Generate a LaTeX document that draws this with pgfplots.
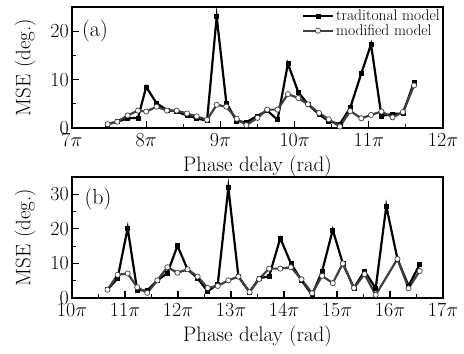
\documentclass[border=0pt]{standalone}
\usepackage{fix-cm}
\usepackage{pgfplots}
\pgfplotsset{compat=1.18}
\usepackage{pgfplotstable}
\definecolor{modgray}{HTML}{404040}

\pgfplotstableread{
x trad mod
7.48 0.8 0.8
7.61 1.3 1.3
7.75 2.0 2.6
7.89 2.1 3.6
8.00 8.5 3.4
8.14 5.1 4.4
8.28 3.7 3.6
8.41 3.4 3.6
8.55 2.6 3.0
8.68 2.0 2.4
8.82 1.5 1.7
8.95 23.0 4.8
9.08 5.2 4.4
9.22 1.4 1.9
9.35 1.2 0.6
9.50 2.5 2.1
9.63 3.6 3.8
9.77 1.7 3.8
9.91 13.3 7.0
10.05 7.4 6.2
10.18 4.9 4.9
10.33 2.8 3.1
10.46 1.4 1.8
10.61 0.8 0.3
10.75 4.2 3.5
10.90 11.3 2.0
11.03 17.3 2.7
11.17 2.5 3.4
11.32 2.9 2.2
11.46 3.0 3.3
11.61 9.5 8.8
}\tableA

\pgfplotstableread{
x trad
10.67 2.4
10.86 5.7
11.05 20.2
11.23 2.2
11.42 2.2
11.61 5.1
11.80 7.2
11.99 15.1
12.18 8.3
12.37 5.7
12.56 1.9
12.75 4.0
12.95 31.9
13.14 6.2
13.35 1.7
13.53 5.7
13.72 6.3
13.93 17.3
14.13 10.0
14.33 5.1
14.53 0.9
14.72 7.8
14.92 19.7
15.11 10.0
15.32 2.9
15.52 7.8
15.73 2.8
15.93 26.6
16.14 11.3
16.35 3.5
16.56 9.7
}\tableBtrad

\pgfplotstableread{
x mod
10.67 2.4
10.86 6.7
11.05 7.1
11.23 3.1
11.42 1.5
11.61 5.1
11.80 8.9
11.99 7.3
12.18 8.3
12.37 6.2
12.56 2.9
12.75 3.5
12.95 5.1
13.14 6.2
13.35 1.7
13.53 5.5
13.72 8.5
13.93 8.5
14.13 8.9
14.33 5.4
14.53 1.4
14.72 6.4
14.92 4.3
15.11 10.0
15.32 2.9
15.52 6.9
15.73 0.9
16.14 11.3
16.35 2.8
16.56 7.8
}\tableBmod

\pgfplotsset{
  panel/.style={
    scale only axis,
    width=371pt,
    height=121pt,
    axis line style={line width=1.3pt},
    tick style={line width=1.1pt, black},
    tickpos=left,
    tick align=inside,
    major tick length=7pt,
    minor tick length=4pt,
    minor x tick num=1,
    minor y tick num=1,
    ymin=0,
    xticklabel={$\pgfmathprintnumber{\tick}\pi$},
    ticklabel style={font=\fontsize{20}{22}\selectfont},
    xticklabel style={inner sep=2pt, yshift=-3pt},
    yticklabel style={inner sep=3pt},
    xlabel={Phase delay (rad)},
    ylabel={MSE (deg.)},
    xlabel style={font=\fontsize{21}{23}\selectfont, at={(axis description cs:0.5,0)}, anchor=center, yshift=-38pt},
    ylabel style={font=\fontsize{21}{23}\selectfont, at={(axis description cs:-0.126,0.5)}, anchor=center},
  },
  tradstyle/.style={black, line width=2.2pt, mark=square*, mark size=2pt, mark options={solid, fill=black, line width=0.6pt}},
  modstyle/.style={modgray, line width=2.2pt, mark=*, mark size=2.6pt, mark options={solid, fill=white, draw=modgray, line width=0.7pt}},
}

\begin{document}
\begin{tikzpicture}
\path[use as bounding box] (-72pt,7pt) rectangle (392pt,-347pt);
\begin{axis}[panel,
  at={(0,0)}, anchor=north west,
  xmin=7, xmax=12, ymax=25,
  xtick={7,8,9,10,11,12},
  ytick={0,10,20},
  legend style={draw=none, fill=none, at={(rel axis cs:1,1)}, anchor=north east, inner sep=1pt, row sep=-2pt,
    font=\fontsize{15.5}{17}\selectfont, cells={anchor=west}},
  legend image code/.code={\draw[mark repeat=2,mark phase=2] plot coordinates {(0pt,0pt)(15pt,0pt)(30pt,0pt)};},
]
\addplot[tradstyle] table[x=x,y=trad] {\tableA};
\addlegendentry{traditonal model}
\addplot[modstyle] table[x=x,y=mod] {\tableA};
\addlegendentry{modified model}
\node[font=\fontsize{22}{24}\selectfont, anchor=center] at (axis description cs:0.062,0.8) {(a)};
\end{axis}
\begin{axis}[panel,
  at={(0,-170pt)}, anchor=north west,
  xmin=10, xmax=17, ymax=35,
  xtick={10,11,12,13,14,15,16,17},
  ytick={0,10,20,30},
]
\addplot[tradstyle] table[x=x,y=trad] {\tableBtrad};
\addplot[modstyle] table[x=x,y=mod] {\tableBmod};
\node[font=\fontsize{22}{24}\selectfont, anchor=center] at (axis description cs:0.07,0.82) {(b)};
\end{axis}
\end{tikzpicture}
\end{document}
